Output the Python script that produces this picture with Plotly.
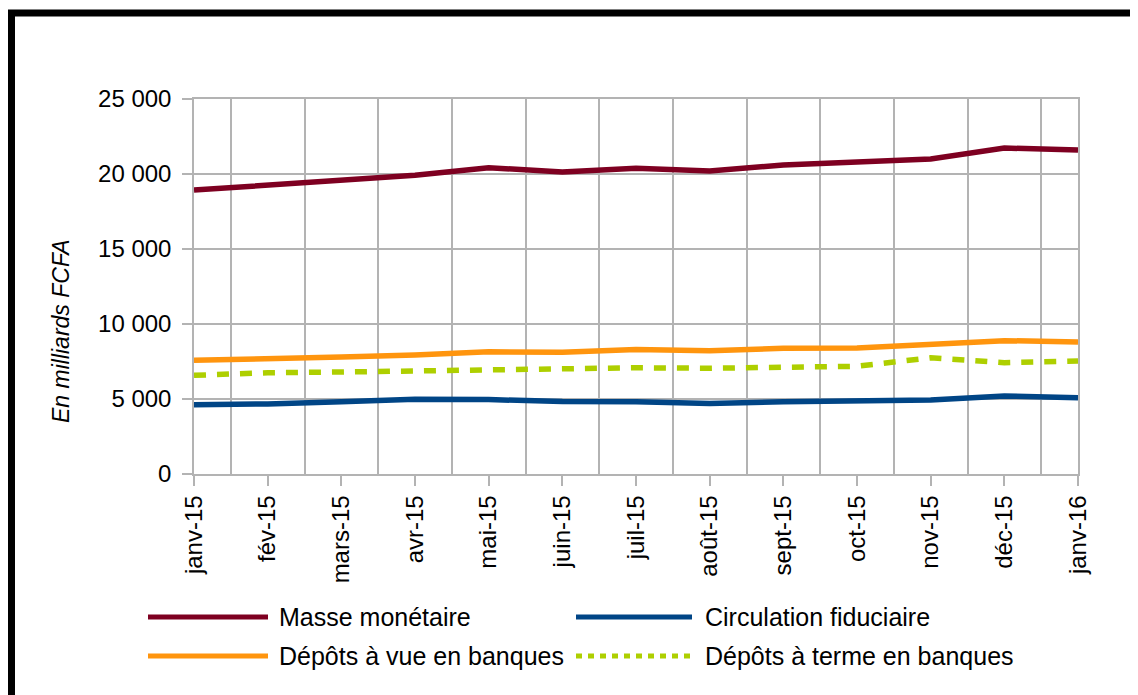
import plotly.graph_objects as go

months = ["janv-15", "fév-15", "mars-15", "avr-15", "mai-15", "juin-15", "juil-15",
          "août-15", "sept-15", "oct-15", "nov-15", "déc-15", "janv-16"]

masse_monetaire = [18930, 19270, 19550, 19910, 20420, 20140, 20390, 20200, 20600, 20780, 21000, 21730, 21600]
circulation_fiduciaire = [4620, 4670, 4820, 4980, 4960, 4830, 4820, 4700, 4820, 4840, 4930, 5200, 5090]
depots_vue = [7580, 7650, 7800, 7930, 8150, 8110, 8300, 8220, 8380, 8400, 8690, 8890, 8800]
depots_terme = [6580, 6750, 6800, 6870, 7000, 7020, 7080, 7050, 7110, 7180, 7750, 7420, 7530]

y_tickvals = [0, 5000, 10000, 15000, 20000, 25000]
y_ticktext = ["0", "5 000", "10 000", "15 000", "20 000", "25 000"]

series = [
    ("Masse monétaire", masse_monetaire, "#7e0021", "solid"),
    ("Circulation fiduciaire", circulation_fiduciaire, "#004586", "solid"),
    ("Dépôts à vue en banques", depots_vue, "#ff950e", "solid"),
    ("Dépôts à terme en banques", depots_terme, "#aecf00", "12px,11px"),
]

OFF = 8  # default page body margin
W, H = 1138 - OFF, 695 - OFF
# plot area in screen pixels
L, R, T, B = 194, 1078, 99, 474


def px(x):
    return (x - L) / (R - L)


def py(y):
    return (B - y) / (B - T)


xidx = list(range(len(months)))

fig = go.Figure()
for name, vals, color, dash in series:
    fig.add_trace(go.Scatter(x=xidx, y=vals, mode="lines", name=name,
                             line=dict(color=color, width=5.5, dash=dash),
                             showlegend=False))

grid = "#b3b3b3"
fig.update_layout(
    width=W, height=H,
    margin=dict(l=L - OFF, r=W - (R - OFF), t=T - OFF, b=H - (B - OFF), pad=0),
    paper_bgcolor="white", plot_bgcolor="white",
    font=dict(family="Liberation Sans, Arial, sans-serif", color="black"),
    showlegend=False,
)
fig.update_xaxes(
    range=[0, len(months) - 1], tickmode="array", tickvals=xidx, ticktext=months,
    tickangle=-90, tickfont=dict(size=24, color="black"),
    showgrid=False, showline=True, mirror=True, linecolor=grid, linewidth=1.5,
    ticks="outside", ticklen=10, tickcolor=grid, tickwidth=1.5,
    minor=dict(tick0=0.5, dtick=1, showgrid=True, gridcolor=grid, gridwidth=1.5, ticks=""),
    zeroline=False, fixedrange=True,
)
fig.update_yaxes(
    range=[0, 25000], tickmode="array", tickvals=y_tickvals, ticktext=y_ticktext,
    tickfont=dict(size=24, color="black"),
    showgrid=True, gridcolor=grid, gridwidth=1.5,
    showline=True, mirror=True, linecolor=grid, linewidth=1.5,
    ticks="outside", ticklen=10, tickcolor=grid, tickwidth=1.5,
    ticklabelstandoff=6, zeroline=False, fixedrange=True,
)

shapes = []
annotations = []

# outer frame (top and left edges visible)
shapes.append(dict(type="rect", xref="paper", yref="paper",
                   x0=px(11.5), x1=px(1170), y0=py(13), y1=py(730),
                   line=dict(color="black", width=7), fillcolor="rgba(0,0,0,0)", layer="above"))

# y axis title
annotations.append(dict(text="<i>En milliards FCFA</i>", xref="paper", yref="paper",
                        x=px(61), y=py(331), textangle=-90, showarrow=False,
                        xanchor="center", yanchor="middle",
                        font=dict(size=23, color="black")))

# custom legend
legend_pos = [
    (148, 268, 617, 277),
    (576, 692, 617, 703),
    (148, 268, 656, 277),
    (576, 692, 656, 703),
]
for (name, vals, color, dash), (lx0, lx1, ly, tx) in zip(series, legend_pos):
    ldash = "6px,6px" if dash != "solid" else "solid"
    shapes.append(dict(type="line", xref="paper", yref="paper",
                       x0=px(lx0), x1=px(lx1), y0=py(ly), y1=py(ly),
                       line=dict(color=color, width=5, dash=ldash)))
    annotations.append(dict(text=name, xref="paper", yref="paper",
                            x=px(tx), y=py(ly), showarrow=False,
                            xanchor="left", yanchor="middle",
                            font=dict(size=25, color="black")))

fig.update_layout(shapes=shapes, annotations=annotations)
fig.write_html("out.html")
